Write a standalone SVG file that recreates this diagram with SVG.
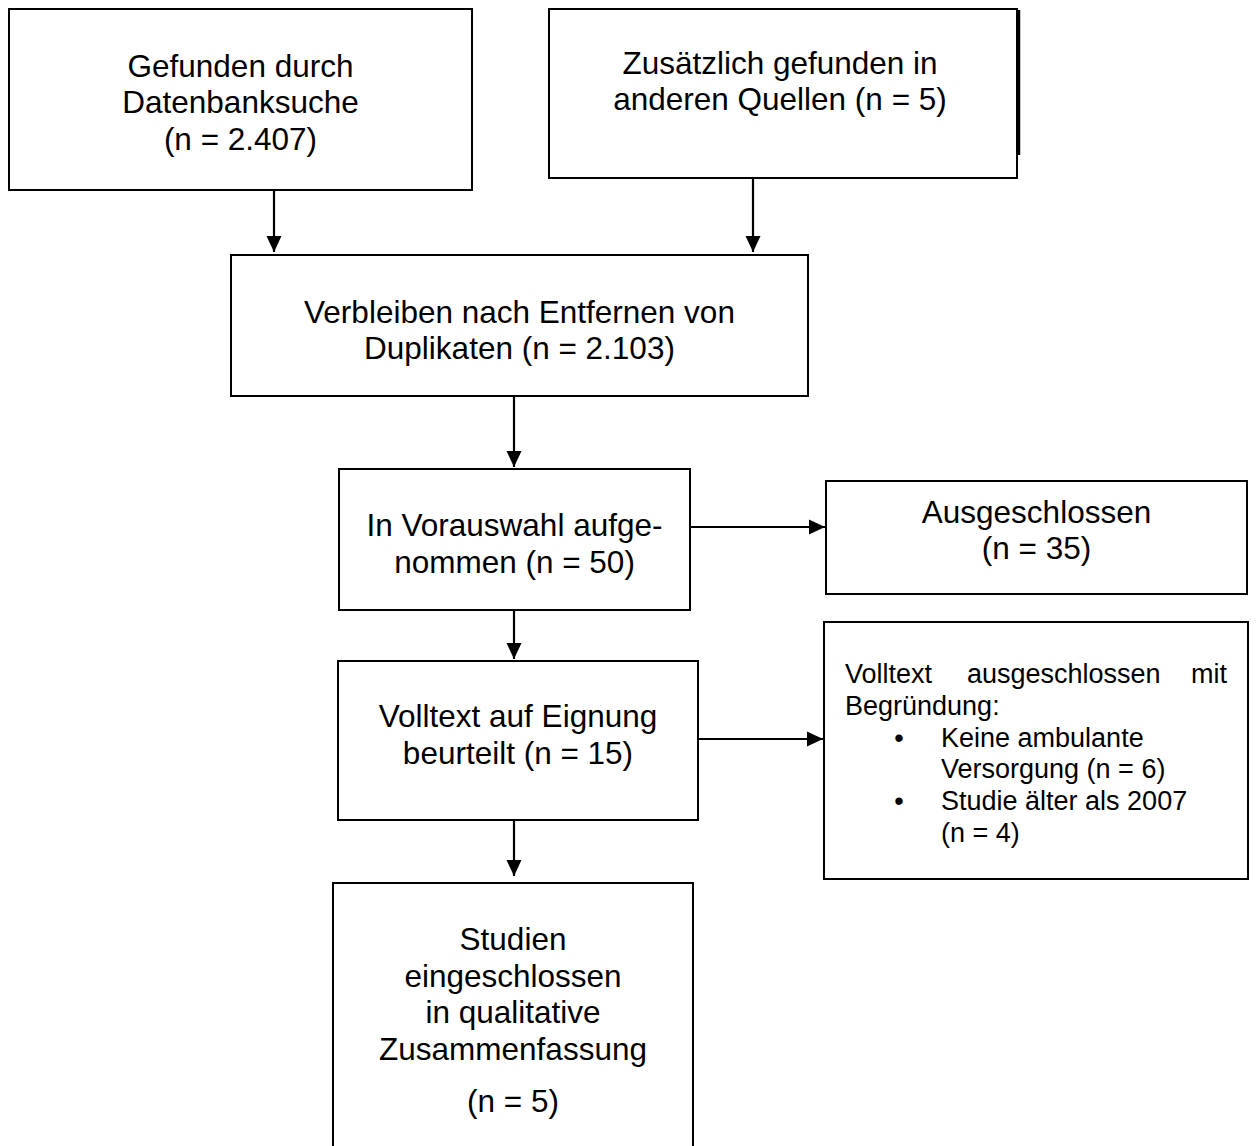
<svg xmlns="http://www.w3.org/2000/svg" width="1256" height="1146" viewBox="0 0 1256 1146">
  <style>
    .box { fill: #ffffff; stroke: #000000; stroke-width: 2; }
    .edge { fill: none; stroke: #000000; stroke-width: 2.2; }
    .lbl { font-family: "Liberation Sans", Arial, sans-serif; font-size: 31.5px; fill: #000000; text-anchor: middle; }
    .small { font-family: "Liberation Sans", Arial, sans-serif; font-size: 27px; fill: #000000; }
  </style>
  <defs>
    <marker id="arrow" viewBox="0 0 16 16" refX="16" refY="8" markerWidth="16" markerHeight="16" markerUnits="userSpaceOnUse" orient="auto">
      <path d="M0,0.5 L16,8 L0,15.5 z" fill="#000000"/>
    </marker>
  </defs>

  <rect width="1256" height="1146" fill="#ffffff"/>

  <!-- connectors -->
  <g id="connectors">
    <line class="edge" x1="274" y1="190" x2="274" y2="252" marker-end="url(#arrow)"/>
    <line class="edge" x1="753" y1="178" x2="753" y2="252" marker-end="url(#arrow)"/>
    <line class="edge" x1="514" y1="396" x2="514" y2="467" marker-end="url(#arrow)"/>
    <line class="edge" x1="690" y1="527" x2="825" y2="527" marker-end="url(#arrow)"/>
    <line class="edge" x1="514" y1="610" x2="514" y2="659" marker-end="url(#arrow)"/>
    <line class="edge" x1="698" y1="739" x2="823" y2="739" marker-end="url(#arrow)"/>
    <line class="edge" x1="514" y1="820" x2="514" y2="876" marker-end="url(#arrow)"/>
  </g>

  <!-- records found by database search -->
  <g id="node-datenbank">
    <rect class="box" x="9" y="9" width="463" height="181"/>
    <text class="lbl" x="240.5" y="76.5">Gefunden durch</text>
    <text class="lbl" x="240.5" y="113">Datenbanksuche</text>
    <text class="lbl" x="240.5" y="149.5">(n = 2.407)</text>
  </g>

  <!-- records from other sources -->
  <g id="node-quellen">
    <rect class="box" x="549" y="9" width="468" height="169"/>
    <line x1="1019" y1="10" x2="1019" y2="155" stroke="#000000" stroke-width="2.5"/>
    <text class="lbl" x="780" y="74">Zusätzlich gefunden in</text>
    <text class="lbl" x="780" y="110">anderen Quellen (n = 5)</text>
  </g>

  <!-- after removing duplicates -->
  <g id="node-duplikate">
    <rect class="box" x="231" y="255" width="577" height="141"/>
    <text class="lbl" x="519.5" y="323">Verbleiben nach Entfernen von</text>
    <text class="lbl" x="519.5" y="359">Duplikaten (n = 2.103)</text>
  </g>

  <!-- screening -->
  <g id="node-vorauswahl">
    <rect class="box" x="339" y="469" width="351" height="141"/>
    <text class="lbl" x="514.5" y="536">In Vorauswahl aufge-</text>
    <text class="lbl" x="514.5" y="573">nommen (n = 50)</text>
  </g>

  <!-- excluded at screening -->
  <g id="node-ausgeschlossen">
    <rect class="box" x="826" y="481" width="421" height="113"/>
    <text class="lbl" x="1036.5" y="523">Ausgeschlossen</text>
    <text class="lbl" x="1036.5" y="559">(n = 35)</text>
  </g>

  <!-- full-text assessment -->
  <g id="node-volltext">
    <rect class="box" x="338" y="661" width="360" height="159"/>
    <text class="lbl" x="518" y="727">Volltext auf Eignung</text>
    <text class="lbl" x="518" y="764">beurteilt (n = 15)</text>
  </g>

  <!-- full texts excluded with reasons -->
  <g id="node-begruendung">
    <rect class="box" x="824" y="622" width="424" height="257"/>
    <text class="small" x="845" y="683">Volltext</text>
    <text class="small" x="967" y="683">ausgeschlossen</text>
    <text class="small" x="1227" y="683" text-anchor="end">mit</text>
    <text class="small" x="845" y="715">Begründung:</text>
    <text class="small" x="899" y="747" text-anchor="middle">•</text>
    <text class="small" x="941" y="747">Keine ambulante</text>
    <text class="small" x="941" y="778">Versorgung (n = 6)</text>
    <text class="small" x="899" y="810" text-anchor="middle">•</text>
    <text class="small" x="941" y="810">Studie älter als 2007</text>
    <text class="small" x="941" y="842">(n = 4)</text>
  </g>

  <!-- studies included -->
  <g id="node-eingeschlossen">
    <path class="box" d="M333,1147 L333,883 L693,883 L693,1147"/>
    <text class="lbl" x="513" y="950">Studien</text>
    <text class="lbl" x="513" y="987">eingeschlossen</text>
    <text class="lbl" x="513" y="1023">in qualitative</text>
    <text class="lbl" x="513" y="1060">Zusammenfassung</text>
    <text class="lbl" x="513" y="1112">(n = 5)</text>
  </g>
</svg>
